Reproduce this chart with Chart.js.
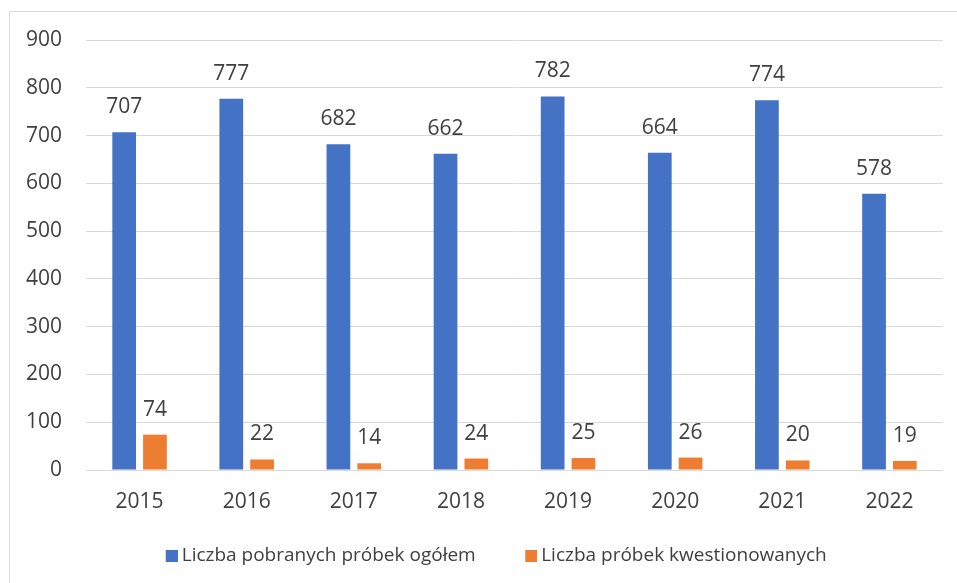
<!DOCTYPE html>
<html>
<head>
<meta charset="utf-8">
<script src="https://cdn.jsdelivr.net/npm/chart.js@4"></script>
<style>
html,body{margin:0;padding:0;background:#fff;}
#wrap{width:957px;height:583px;position:relative;}
</style>
</head>
<body>
<div id="wrap"><canvas id="c" width="957" height="583"></canvas></div>
<script>
const years = ['2015','2016','2017','2018','2019','2020','2021','2022'];
const totalSamples = [707, 777, 682, 662, 782, 664, 774, 578];
const questionedSamples = [74, 22, 14, 24, 25, 26, 20, 19];
const seriesNames = ['Liczba pobranych próbek ogółem', 'Liczba próbek kwestionowanych'];
const seriesColors = ['#4472C4', '#ED7D31'];
const yTicks = [0,100,200,300,400,500,600,700,800,900];

const FONT = '"Open Sans", sans-serif';
const LEGEND_BOX_W = 46;

function legendMark(color) {
  const c = document.createElement('canvas');
  c.width = LEGEND_BOX_W + 11;
  c.height = 12;
  const g = c.getContext('2d');
  g.fillStyle = color;
  g.fillRect(c.width - 12, 0, 12, 12);
  return c;
}
const legendMarks = seriesColors.map(legendMark);

const frame = {
  id: 'frame',
  beforeDraw(chart) {
    const ctx = chart.ctx;
    ctx.save();
    ctx.fillStyle = '#fff';
    ctx.fillRect(0,0,chart.width,chart.height);
    ctx.strokeStyle = '#d9d9d9';
    ctx.lineWidth = 1;
    ctx.beginPath();
    ctx.moveTo(9.5, chart.height);
    ctx.lineTo(9.5, 11.5);
    ctx.lineTo(chart.width, 11.5);
    ctx.stroke();
    ctx.restore();
  }
};

const valueLabels = {
  id: 'valueLabels',
  afterDatasetsDraw(chart) {
    const ctx = chart.ctx;
    ctx.save();
    ctx.font = '21px ' + FONT;
    ctx.fillStyle = '#404040';
    ctx.textAlign = 'center';
    ctx.textBaseline = 'middle';
    chart.data.datasets.forEach((ds, i) => {
      const meta = chart.getDatasetMeta(i);
      meta.data.forEach((bar, j) => {
        ctx.fillText(String(ds.data[j]), bar.x, bar.y - 25);
      });
    });
    ctx.restore();
  }
};

new Chart(document.getElementById('c'), {
  type: 'bar',
  data: {
    labels: years,
    datasets: [
      { label: seriesNames[0], data: totalSamples, backgroundColor: seriesColors[0], barPercentage: 0.77, categoryPercentage: 0.575 },
      { label: seriesNames[1], data: questionedSamples, backgroundColor: seriesColors[1], barPercentage: 0.77, categoryPercentage: 0.575 }
    ]
  },
  options: {
    responsive: false,
    animation: false,
    layout: { padding: { left: 10, right: 14, top: 40, bottom: 8 } },
    plugins: {
      legend: {
        position: 'bottom',
        labels: {
          usePointStyle: true,
          pointStyleWidth: LEGEND_BOX_W,
          boxHeight: 12,
          padding: 10,
          color: '#404040',
          font: { family: FONT, size: 19 },
          generateLabels(chart) {
            const items = Chart.defaults.plugins.legend.labels.generateLabels(chart);
            items.forEach((it, i) => { it.pointStyle = legendMarks[i]; });
            return items;
          }
        }
      },
      tooltip: { enabled: false }
    },
    scales: {
      x: {
        afterFit(axis) { axis.height = 66; },
        grid: { display: false, drawTicks: false },
        border: { display: false },
        ticks: { color: '#404040', font: { family: FONT, size: 21 }, padding: 19 }
      },
      y: {
        min: 0, max: 900,
        afterBuildTicks(axis) { axis.ticks = yTicks.map(v => ({ value: v })); },
        afterFit(axis) { axis.width = 76; },
        grid: { color: '#d9d9d9', lineWidth: 1, drawTicks: false },
        border: { display: false },
        ticks: { color: '#404040', font: { family: FONT, size: 21 }, padding: 24 }
      }
    }
  },
  plugins: [frame, valueLabels]
});
</script>
</body>
</html>
